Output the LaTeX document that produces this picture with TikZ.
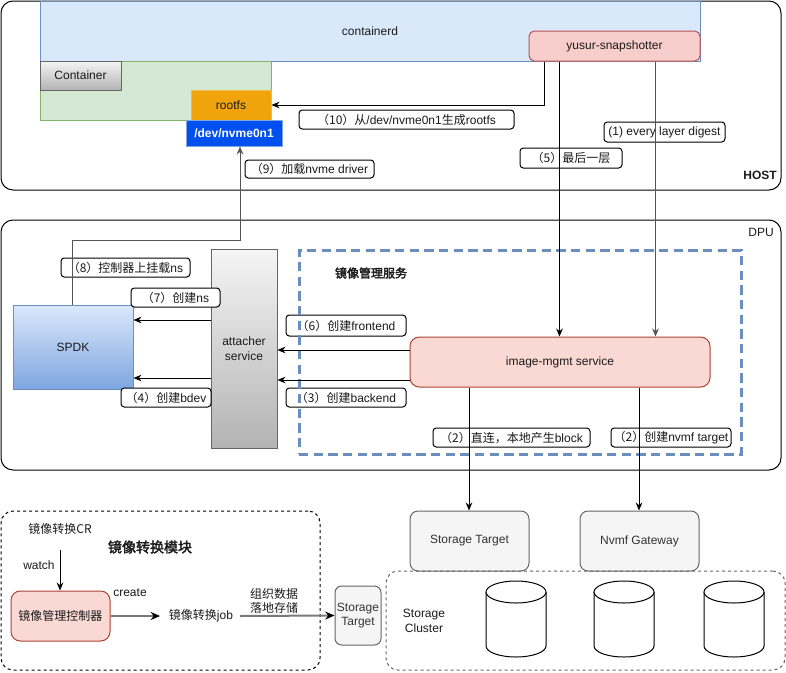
\documentclass[tikz,border=0pt]{standalone}
\usepackage{fontspec}
\setmainfont{Liberation Sans}
\newfontfamily\cjk{Noto Sans CJK SC}
\newfontfamily\cjkb{Noto Sans CJK SC}[FakeBold=2.5]
\usetikzlibrary{arrows.meta}
\definecolor{cdfill}{HTML}{DAE8FC}
\definecolor{cddraw}{HTML}{6C8EBF}
\definecolor{grfill}{HTML}{D5E8D4}
\definecolor{grdraw}{HTML}{82B366}
\definecolor{orfill}{HTML}{F0A30A}
\definecolor{ordraw}{HTML}{F5B94A}
\definecolor{nvfill}{HTML}{0050EF}
\definecolor{nvdraw}{HTML}{7EA6E0}
\definecolor{snfill}{HTML}{F8CECC}
\definecolor{sndraw}{HTML}{B85450}
\definecolor{imfill}{HTML}{FAD9D5}
\definecolor{imdraw}{HTML}{AE4132}
\definecolor{gyfill}{HTML}{F5F5F5}
\definecolor{gydraw}{HTML}{666666}
\definecolor{gyend}{HTML}{B3B3B3}
\definecolor{txt}{HTML}{1A1A1A}
\definecolor{lgray}{HTML}{555555}
\definecolor{lineg}{HTML}{7A7A7A}
\tikzset{
  every node/.style={font=\fontsize{9}{11}\selectfont, text=txt},
  sz/.style 2 args={minimum width=#1*0.75pt, minimum height=#2*0.75pt, inner sep=0pt},
  lbl/.style={draw=black, fill=white, rounded corners=2.5pt, line width=0.75pt},
  arr/.style={-{Stealth[length=6pt,width=5pt]}, line width=0.75pt, draw=black},
  garr/.style={arr, draw=lgray},
  thickarr/.style={-{Stealth[length=7pt,width=6pt,black]}, line width=1.5pt, draw=lineg},
  plain/.style={line width=0.75pt},
  grayshade/.style={top color=gyfill, bottom color=gyend, draw=gydraw, line width=0.75pt},
  graybox/.style={fill=gyfill, draw=gydraw, rounded corners=6pt, line width=0.75pt, text=gray!40!black},
  pinkbox/.style={fill=imfill, draw=imdraw, rounded corners=7pt, line width=0.75pt},
  smalldash/.style={dash pattern=on 2.25pt off 2.25pt, line width=0.75pt, rounded corners=9pt},
}
\begin{document}
\begin{tikzpicture}[x=0.75pt,y=-0.75pt]
\useasboundingbox (0,0) rectangle (786,672);
% containers
\node[sz={780}{189}, draw=black, plain, rounded corners=9pt] (host) at (391,95.5) {};
\node[font=\fontsize{9}{11}\selectfont\bfseries] (hostlbl) at (760,175) {HOST};
\node[sz={780}{250}, draw=black, plain, rounded corners=9pt] (dpu) at (391,345) {};
\node (dpulbl) at (761,232) {DPU};
% host content
\node[sz={660}{60}, fill=cdfill, draw=cddraw, plain] (containerd) at (370,31) {containerd};
\node[sz={231}{59}, fill=grfill, draw=grdraw, plain] (green) at (155.5,90.5) {};
\node[sz={81}{29}, grayshade] (container) at (80.5,75.5) {Container};
\node[sz={80}{30}, fill=orfill, draw=ordraw, plain] (rootfs) at (231,105) {rootfs};
\node[sz={96}{26}, fill=nvfill, draw=nvdraw, plain, text=white, font=\fontsize{9}{11}\selectfont\bfseries] (nvme) at (234,133) {/dev/nvme0n1};
\node[sz={171}{30}, fill=snfill, draw=sndraw, plain, rounded corners=4pt] (snap) at (614.5,46) {yusur-snapshotter};
% DPU content
\node[sz={120}{84}, top color=cdfill, bottom color=nvdraw, draw=cddraw, plain] (spdk) at (73,347) {SPDK};
\node[sz={66}{199}, grayshade, align=center] (attacher) at (244,348.5) {attacher\\service};
% labels
\node[sz={215}{19}, lbl] (l10) at (406.5,119.5) {{\cjk （10）从}/dev/nvme0n1{\cjk 生成}rootfs};
\node[sz={102}{20}, lbl] (l5) at (571,158) {{\cjk （5）最后一层}};
\node[sz={121}{20}, lbl] (l1) at (664.5,132) {(1) every layer digest};
\node[sz={129}{18}, lbl] (l9) at (309.5,169) {{\cjk （9）加载}nvme driver};
\node[sz={129}{19}, lbl] (l8) at (125.5,267.5) {{\cjk （8）控制器上挂载}ns};
\node[sz={89}{19}, lbl] (l7) at (175.5,297.5) {{\cjk （7）创建}ns};
\node[sz={90}{19}, lbl] (l4) at (166,397.5) {{\cjk （4）创建}bdev};
\node[sz={120}{21}, lbl] (l6) at (346,325.5) {{\cjk （6）创建}frontend};
\node[sz={120}{19}, lbl] (l3) at (346,397.5) {{\cjk （3）创建}backend};
\node[sz={157}{19}, lbl] (l2a) at (511.5,437.5) {{\cjk （2）直连，本地产生}block};
\node[sz={120}{19}, lbl] (l2b) at (671,437.5) {{\cjk （2）创建}nvmf target};
% mgmt dashed box
\node[sz={442}{204}, draw=cddraw, line width=2.25pt, dash pattern=on 7pt off 4pt] (mgmt) at (520,352) {};
\node (mgmtlbl) at (371,273) {\cjkb 镜像管理服务};
\node[sz={300}{50}, pinkbox] (img) at (560,362) {image-mgmt service};
% bottom
\node[sz={119}{60}, graybox] (stgt) at (469.5,541) {Storage Target};
\node[sz={119}{60}, graybox] (nvmf) at (639.5,541) {Nvmf Gateway};
\node[sz={399}{99}, draw=gydraw, smalldash] (cluster) at (585.5,620.5) {};
\node[align=center] (clusterlbl) at (424,621) {Storage\\Cluster};
\foreach \cx in {516,624,734}{
  \draw[fill=white, plain] (\cx-30,592) -- (\cx-30,646) .. controls (\cx-30,652.08) and (\cx-16.57,657) .. (\cx,657) .. controls (\cx+16.57,657) and (\cx+30,652.08) .. (\cx+30,646) -- (\cx+30,592);
  \draw[fill=white, plain] (\cx,592) ellipse [x radius=22.5pt, y radius=8.25pt];
}
\node[sz={319}{159}, draw=black, smalldash] (module) at (160.5,590.5) {};
\node (cr) at (60,529) {\cjk 镜像转换CR};
\node[font=\fontsize{10.5}{12}\selectfont] (modlbl) at (150,547) {\cjkb 镜像转换模块};
\node (watch) at (39,565) {watch};
\node[sz={99}{50}, pinkbox] (ctrl) at (60.5,616) {\cjk 镜像管理控制器};
\node (create) at (130,593) {create};
\node (job) at (201,616) {{\cjk 镜像转换}job};
\node[align=center] (org) at (274,601) {\cjk 组织数据\\\cjk 落地存储};
\node[sz={46}{59}, graybox, rounded corners=5pt, align=center] (sst) at (358,615.5) {Storage\\Target};
% connectors
\coordinate (s10) at ([xshift=12pt]snap.south west);
\coordinate (s5) at ([xshift=23.25pt]snap.south west);
\coordinate (s1) at ([xshift=95.25pt]snap.south west);
\draw[arr] (s10) |- (rootfs.east);
\draw[arr] (s5) -- (s5 |- img.north);
\draw[garr] (s1) -- (s1 |- img.north);
\coordinate (k9) at (240,240);
\draw[garr] (spdk.north -| 72,0) |- (k9) -- (nvme.south -| k9);
\draw[arr] (attacher.west |- 0,320) -- (spdk.east |- 0,320);
\draw[arr] (attacher.west |- 0,378) -- (spdk.east |- 0,378);
\draw[arr] (img.west |- 0,350) -- (attacher.east |- 0,350);
\draw[arr] (img.west |- 0,380) -- (attacher.east |- 0,380);
\draw[arr] (img.south -| 469,0) -- (stgt.north -| 469,0);
\draw[arr] (img.south -| 639,0) -- (nvmf.north -| 639,0);
\coordinate (w0) at (60,550);
\draw[arr] (w0) -- (ctrl.north -| w0);
\draw[thickarr] (ctrl.east) -- (160,616) coordinate (jobin);
\draw[thickarr] (240,616) coordinate (jobout) -- (sst.west);
\end{tikzpicture}
\end{document}
